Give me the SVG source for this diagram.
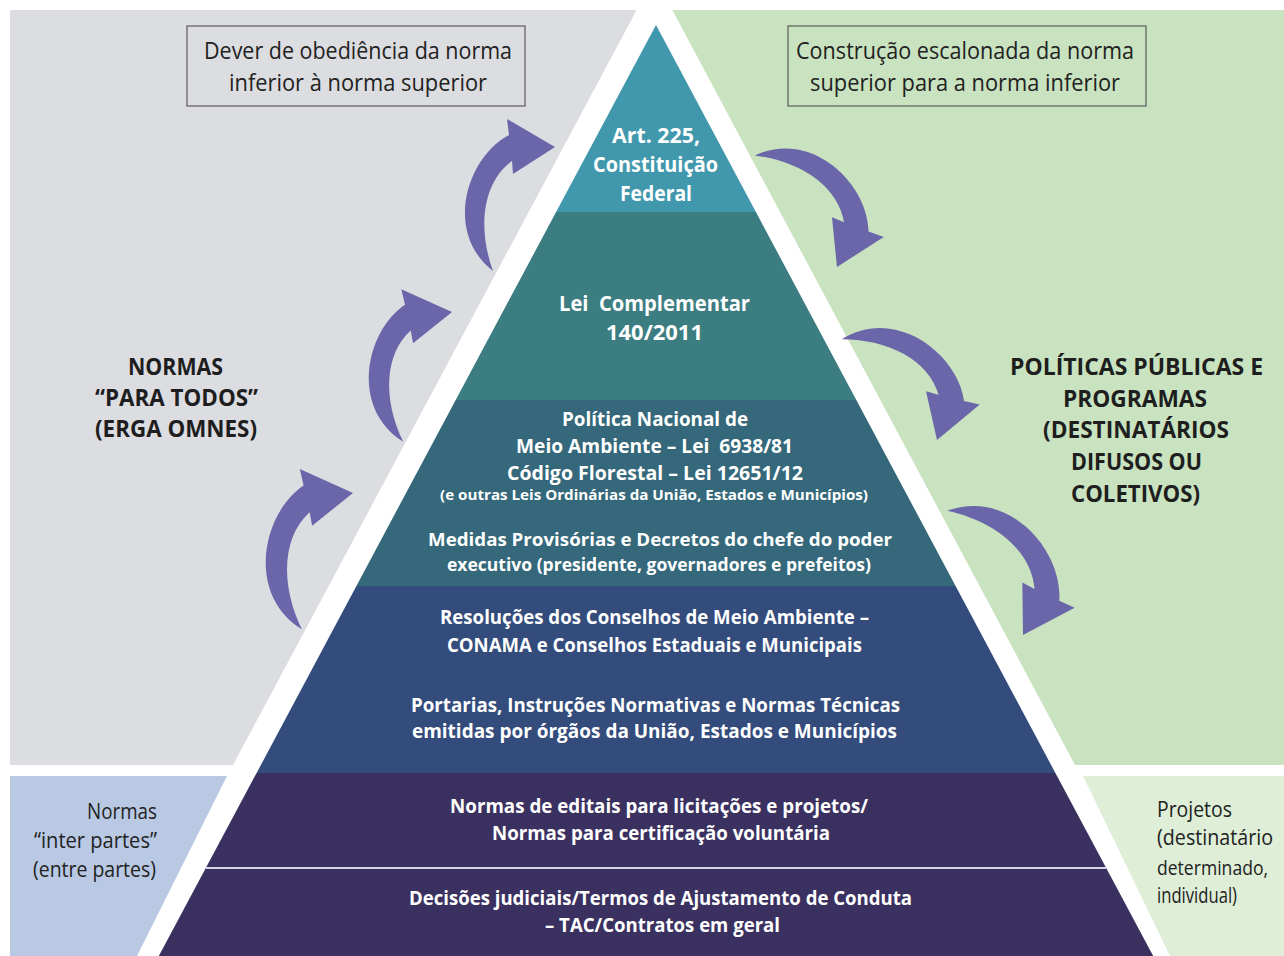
<svg xmlns="http://www.w3.org/2000/svg" xmlns:xlink="http://www.w3.org/1999/xlink" width="1284" height="956" viewBox="0 0 1284 956">
<style>
text{font-family:"Open Sans","Liberation Sans",sans-serif}
.pt{font-weight:700;fill:#ffffff;text-anchor:middle}
.bt{font-weight:700;fill:#1e1e1e;text-anchor:middle}
.nt{font-weight:400;fill:#222222}
.box{fill:none;stroke:#5a5a5a;stroke-width:1.2}
.arr{fill:#6b66a9}
</style>
<defs>
<path id="arrowL" d="M0,0 L-48,-28 L-46,-12 C-88,10 -112,85 -62,124 C-78,80 -72,35 -43,14 L-42,27 Z"/>
</defs>
<rect width="1284" height="956" fill="#ffffff"/>
<g id="backgrounds">
<rect x="10" y="10" width="644" height="755" fill="#dcdde1"/>
<rect x="654" y="10" width="630" height="755" fill="#c9e2c0"/>
<rect x="10" y="776" width="644" height="180" fill="#b9c9e3"/>
<rect x="654" y="776" width="630" height="180" fill="#deeed7"/>
<polygon points="642,0 667,0 1075,765 1083,776 1170,956 137,956 227,776 233,765" fill="#ffffff"/>
</g>
<g id="level1">
<polygon points="656,25 755.9,212 556.1,212" fill="#4198ad"/>
<text class="pt" x="656" y="143" font-size="21" textLength="88" lengthAdjust="spacingAndGlyphs">Art. 225,</text>
<text class="pt" x="655.5" y="172" font-size="21" textLength="125" lengthAdjust="spacingAndGlyphs">Constituição</text>
<text class="pt" x="656" y="201" font-size="21" textLength="72" lengthAdjust="spacingAndGlyphs">Federal</text>
</g>
<g id="level2">
<polygon points="556.1,212 755.9,212 856.3,400 455.7,400" fill="#3b7d81"/>
<text class="pt" x="654.5" y="311" font-size="21" textLength="191" lengthAdjust="spacingAndGlyphs" xml:space="preserve">Lei  Complementar</text>
<text class="pt" x="654.5" y="340" font-size="21" textLength="97" lengthAdjust="spacingAndGlyphs">140/2011</text>
</g>
<g id="level3">
<polygon points="455.7,400 856.3,400 955.6,586 356.4,586" fill="#34687a"/>
<text class="pt" x="655" y="426" font-size="19" textLength="186" lengthAdjust="spacingAndGlyphs">Política Nacional de</text>
<text class="pt" x="654.5" y="453" font-size="19" textLength="277" lengthAdjust="spacingAndGlyphs" xml:space="preserve">Meio Ambiente – Lei  6938/81</text>
<text class="pt" x="655" y="480" font-size="19" textLength="296" lengthAdjust="spacingAndGlyphs">Código Florestal – Lei 12651/12</text>
<text class="pt" x="654" y="500" font-size="14" textLength="428" lengthAdjust="spacingAndGlyphs">(e outras Leis Ordinárias da União, Estados e Municípios)</text>
<text class="pt" x="660" y="546" font-size="18" textLength="464" lengthAdjust="spacingAndGlyphs">Medidas Provisórias e Decretos do chefe do poder</text>
<text class="pt" x="659" y="571" font-size="18" textLength="424" lengthAdjust="spacingAndGlyphs">executivo (presidente, governadores e prefeitos)</text>
</g>
<g id="level4">
<polygon points="356.4,586 955.6,586 1055.4,773 256.6,773" fill="#334c7c"/>
<text class="pt" x="654.5" y="624" font-size="19" textLength="429" lengthAdjust="spacingAndGlyphs">Resoluções dos Conselhos de Meio Ambiente –</text>
<text class="pt" x="654.5" y="652" font-size="19" textLength="415" lengthAdjust="spacingAndGlyphs">CONAMA e Conselhos Estaduais e Municipais</text>
<text class="pt" x="655.5" y="712" font-size="19" textLength="489" lengthAdjust="spacingAndGlyphs">Portarias, Instruções Normativas e Normas Técnicas</text>
<text class="pt" x="654.5" y="738" font-size="19" textLength="485" lengthAdjust="spacingAndGlyphs">emitidas por órgãos da União, Estados e Municípios</text>
</g>
<g id="level5">
<polygon points="256.6,773 1055.4,773 1106.2,868 205.8,868" fill="#3b3160"/>
<text class="pt" x="659" y="813" font-size="19" textLength="418" lengthAdjust="spacingAndGlyphs">Normas de editais para licitações e projetos/</text>
<text class="pt" x="661" y="840" font-size="19" textLength="338" lengthAdjust="spacingAndGlyphs">Normas para certificação voluntária</text>
</g>
<g id="level6">
<polygon points="205.8,868 1106.2,868 1153.2,956 158.8,956" fill="#3b3160"/>
<line x1="205.8" y1="868" x2="1106.2" y2="868" stroke="#d4d4e2" stroke-width="2"/>
<text class="pt" x="660.5" y="905" font-size="19" textLength="503" lengthAdjust="spacingAndGlyphs">Decisões judiciais/Termos de Ajustamento de Conduta</text>
<text class="pt" x="662.5" y="932" font-size="19" textLength="235" lengthAdjust="spacingAndGlyphs">– TAC/Contratos em geral</text>
</g>
<g id="box-dever">
<rect class="box" x="187" y="26" width="338" height="80"/>
<text class="nt" x="358" y="59" font-size="24" text-anchor="middle" textLength="308" lengthAdjust="spacingAndGlyphs">Dever de obediência da norma</text>
<text class="nt" x="358" y="91" font-size="24" text-anchor="middle" textLength="258" lengthAdjust="spacingAndGlyphs">inferior à norma superior</text>
</g>
<g id="box-construcao">
<rect class="box" x="788" y="26" width="358" height="80"/>
<text class="nt" x="965" y="59" font-size="24" text-anchor="middle" textLength="338" lengthAdjust="spacingAndGlyphs">Construção escalonada da norma</text>
<text class="nt" x="965" y="91" font-size="24" text-anchor="middle" textLength="310" lengthAdjust="spacingAndGlyphs">superior para a norma inferior</text>
</g>
<g id="label-erga-omnes">
<text class="bt" x="175.5" y="375" font-size="24" textLength="95" lengthAdjust="spacingAndGlyphs">NORMAS</text>
<text class="bt" x="176.5" y="406" font-size="24" textLength="163" lengthAdjust="spacingAndGlyphs">“PARA TODOS”</text>
<text class="bt" x="176" y="437" font-size="24" textLength="162" lengthAdjust="spacingAndGlyphs">(ERGA OMNES)</text>
</g>
<g id="label-politicas">
<text class="bt" x="1136.5" y="375" font-size="24" textLength="253" lengthAdjust="spacingAndGlyphs">POLÍTICAS PÚBLICAS E</text>
<text class="bt" x="1135" y="407" font-size="24" textLength="144" lengthAdjust="spacingAndGlyphs">PROGRAMAS</text>
<text class="bt" x="1136" y="438" font-size="24" textLength="186" lengthAdjust="spacingAndGlyphs">(DESTINATÁRIOS</text>
<text class="bt" x="1136.5" y="470" font-size="24" textLength="131" lengthAdjust="spacingAndGlyphs">DIFUSOS OU</text>
<text class="bt" x="1135.5" y="502" font-size="24" textLength="129" lengthAdjust="spacingAndGlyphs">COLETIVOS)</text>
</g>
<g id="label-inter-partes">
<text class="nt" x="157" y="819" font-size="22" text-anchor="end" textLength="70" lengthAdjust="spacingAndGlyphs">Normas</text>
<text class="nt" x="157" y="848" font-size="22" text-anchor="end" textLength="123" lengthAdjust="spacingAndGlyphs">“inter partes”</text>
<text class="nt" x="156" y="877" font-size="22" text-anchor="end" textLength="123" lengthAdjust="spacingAndGlyphs">(entre partes)</text>
</g>
<g id="label-projetos">
<text class="nt" x="1157" y="817" font-size="21" textLength="75" lengthAdjust="spacingAndGlyphs">Projetos</text>
<text class="nt" x="1157" y="845" font-size="21" textLength="116" lengthAdjust="spacingAndGlyphs">(destinatário</text>
<text class="nt" x="1157" y="875" font-size="20" textLength="111" lengthAdjust="spacingAndGlyphs">determinado,</text>
<text class="nt" x="1157" y="903" font-size="21" textLength="80" lengthAdjust="spacingAndGlyphs">individual)</text>
</g>
<g id="connectors">
<use class="arr" xlink:href="#arrowL" href="#arrowL" transform="translate(555,147)"/>
<use class="arr" xlink:href="#arrowL" href="#arrowL" transform="translate(452,312) rotate(-6)"/>
<use class="arr" xlink:href="#arrowL" href="#arrowL" transform="translate(353,493) rotate(-6) scale(1.05)"/>
<use class="arr" xlink:href="#arrowL" href="#arrowL" transform="translate(837,267) rotate(117)"/>
<use class="arr" xlink:href="#arrowL" href="#arrowL" transform="translate(937,440) rotate(110)"/>
<use class="arr" xlink:href="#arrowL" href="#arrowL" transform="translate(1023,635) rotate(122) scale(1.05)"/>
</g>
</svg>
